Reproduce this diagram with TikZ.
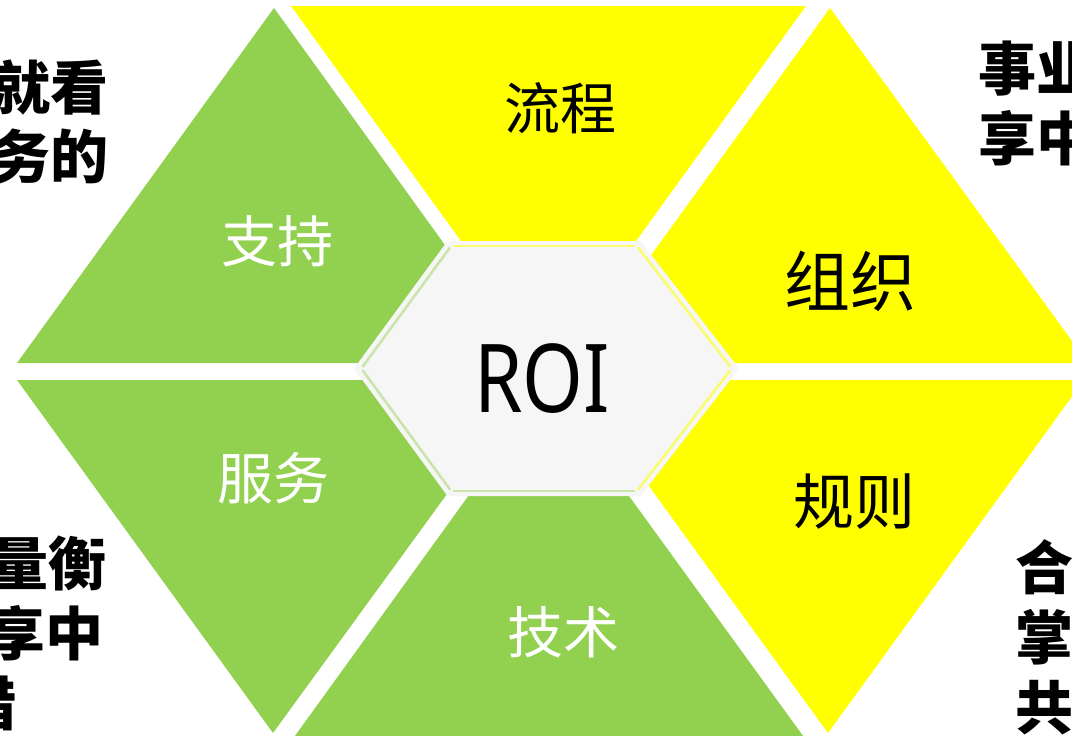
\documentclass[tikz,border=0pt]{standalone}
\usepackage{fontspec}
\usepackage{graphicx}
\newfontfamily\cjk{Noto Sans CJK SC}
\newfontfamily\latinsans{Noto Sans}
\definecolor{pgreen}{HTML}{92D050}
\definecolor{pyellow}{HTML}{FFFF00}
\definecolor{hexfill}{HTML}{F6F6F6}
\colorlet{bandgreen}{pgreen!45!hexfill}
\colorlet{bandyellow}{pyellow!55!hexfill}
\tikzset{
  wlabel/.style={inner sep=0pt, text=white, font=\cjk\fontsize{56}{60}\selectfont},
  blabel/.style={inner sep=0pt, text=black, font=\cjk\fontsize{56}{60}\selectfont},
  roilabel/.style={inner sep=0pt, text=black, font=\latinsans\fontsize{95}{100}\selectfont},
  sidetext/.style={inner sep=0pt, text=black, font=\cjk\bfseries\fontsize{58}{70}\selectfont},
  band/.style={line width=2.6pt, shorten >=2pt, shorten <=2pt}
}
\begin{document}
\begin{tikzpicture}[x=1pt,y=-1pt]
\useasboundingbox[fill=white] (0,0) rectangle (1072,736);

% six triangles
\fill[pgreen]  (274,8) -- (17,363) -- (530,363) -- cycle;
\fill[pyellow] (291,6) -- (806,6) -- (548.5,362) -- cycle;
\fill[pyellow] (830,8) -- (573,363) -- (1088,363) -- cycle;
\fill[pgreen]  (17,380) -- (530,380) -- (273,733) -- cycle;
\fill[pgreen]  (548.5,385) -- (292,740) -- (806,740) -- cycle;
\fill[pyellow] (572,380) -- (1084,380) -- (828,733) -- cycle;

% central hexagon
\fill[hexfill] (354,368.5) -- (447.5,241) -- (640.5,241) -- (739,368.5) -- (640.5,496) -- (447.5,496) -- cycle;
\begin{scope}[shift={(546.5,368.5)}, scale=0.962]
  \coordinate (hL)  at (-192.5,0);
  \coordinate (hTL) at (-99,-127.5);
  \coordinate (hTR) at (94,-127.5);
  \coordinate (hR)  at (192.5,0);
  \coordinate (hBR) at (94,127.5);
  \coordinate (hBL) at (-99,127.5);
\end{scope}
\draw[band, bandgreen]  (hL) -- (hTL);
\draw[band, bandyellow] (hTL) -- (hTR);
\draw[band, bandyellow] (hTR) -- (hR);
\draw[band, bandyellow] (hR) -- (hBR);
\draw[band, bandgreen]  (hBR) -- (hBL);
\draw[band, bandgreen]  (hBL) -- (hL);

% labels
\node[blabel] (liucheng) at (560,108) {流程};
\node[blabel, font=\cjk\fontsize{66}{70}\selectfont] (zuzhi) at (850,281) {组织};
\node[blabel, font=\cjk\fontsize{61}{66}\selectfont] (guize) at (854,502) {规则};
\node[wlabel] (zhichi) at (277,241) {支持};
\node[wlabel] (fuwu) at (273,478) {服务};
\node[wlabel] (jishu) at (563,632) {技术};
\node[roilabel] (roi) at (542,379) {\scalebox{0.82}[1]{ROI}};

% side texts (cut by the page edge, as in the reference)
\node[sidetext, anchor=base east] (tl1) at (109,109) {就看};
\node[sidetext, anchor=base east] (tl2) at (109,178) {务的};
\node[sidetext, anchor=base west] (tr1) at (978,90) {事业};
\node[sidetext, anchor=base west] (tr2) at (978,160) {享中};
\node[sidetext, anchor=base east] (bl1) at (107,585) {量衡};
\node[sidetext, anchor=base east] (bl2) at (104,655) {享中};
\node[sidetext, anchor=base east] (bl3) at (17,725) {措};
\node[sidetext, anchor=base west] (br1) at (1015,589) {合};
\node[sidetext, anchor=base west] (br2) at (1015,659) {掌};
\node[sidetext, anchor=base west] (br3) at (1015,729) {共};
\end{tikzpicture}
\end{document}
